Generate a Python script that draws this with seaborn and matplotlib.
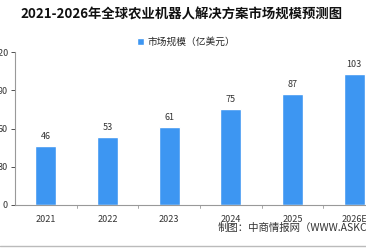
import matplotlib
matplotlib.use("Agg")
import matplotlib.pyplot as plt
import seaborn as sns
import pandas as pd

years = ["2021", "2022", "2023", "2024", "2025", "2026E"]
values = [46, 53, 61, 75, 87, 103]
series_name = "市场规模（亿美元）"
yticks = [0, 30, 60, 90, 120]
title = "2021-2026年全球农业机器人解决方案市场规模预测图"
footer = "制图：中商情报网（WWW.ASKCI.COM）"

sns.set_theme(style="white")
plt.rcParams['font.family'] = ['Noto Sans CJK SC', 'DejaVu Sans']

df = pd.DataFrame({"year": years, "value": values, "series": series_name})

fig = plt.figure(figsize=(3.66, 2.48), dpi=100)
ax = fig.add_axes([15/366, 1-205/248, 370/366, 153/248])
sns.barplot(data=df, x="year", y="value", hue="series", color="#3D96F2",
            palette=["#3D96F2"], width=0.34, ax=ax, saturation=1)

for p, v in zip(ax.patches, values):
    ax.text(p.get_x() + p.get_width()/2, v + 4, str(v), ha="center", va="bottom",
            fontsize=6.5, color="#333333")

ax.set_ylim(0, 120)
ax.set_yticks(yticks)
ax.set_xlim(-0.5, 5.5)
ax.set_xlabel("")
ax.set_ylabel("")
ax.tick_params(axis="y", labelsize=6.5, colors="#333333", length=3, width=0.6, direction="out", left=True, pad=2)
ax.tick_params(axis="x", labelsize=6.5, colors="#333333", length=0, pad=7)
for lbl in ax.get_yticklabels():
    lbl.set_color("#333333")
for b in [0.5, 1.5, 2.5, 3.5, 4.5]:
    ax.plot([b, b], [0, -2.5], color="#999999", lw=0.6, clip_on=False)
for s in ["top", "right"]:
    ax.spines[s].set_visible(False)
for s in ["left", "bottom"]:
    ax.spines[s].set_color("#999999")
    ax.spines[s].set_linewidth(0.8)

leg = ax.legend(loc="upper center", frameon=False, fontsize=7, handlelength=0.7,
                handleheight=0.7, handletextpad=0.4, borderaxespad=0, ncol=1)
leg.set_bbox_to_anchor((186/366, 1-33/248), transform=fig.transFigure)

fig.text(182/366, 1-15/248, title, ha="center", va="center", fontsize=9.6, fontweight="bold", color="#111111")
fig.text(218/366, 1-228/248, footer, ha="left", va="center", fontsize=7.5, color="#333333")
fig.add_artist(plt.Line2D([0, 1], [1-246/248, 1-246/248], transform=fig.transFigure, color="#bbbbbb", lw=1))

fig.savefig("out.png", dpi=100)
